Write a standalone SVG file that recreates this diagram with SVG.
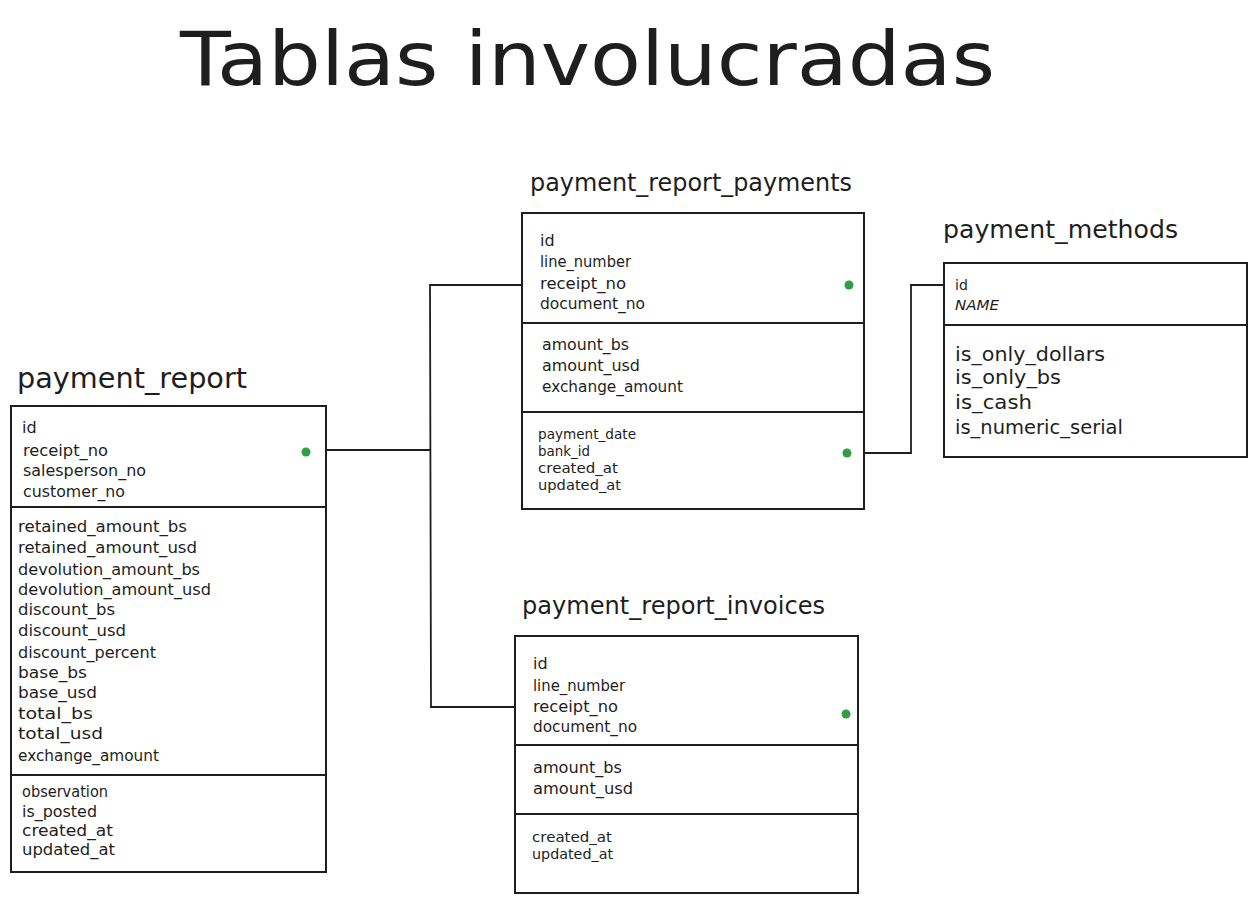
<svg xmlns="http://www.w3.org/2000/svg" width="1257" height="902" viewBox="0 0 1257 902">
<style>
text{font-family:"DejaVu Sans","Liberation Sans",sans-serif;fill:#1e1e1e}
.title{font-size:74px}
.tname{font-size:24px}
.f{font-size:16px}
.fs{font-size:15px}
.fxs{font-size:13.5px}
.fm{font-size:19px}
.fk{font-size:14px}
.box{fill:#fff;stroke:#1e1e1e;stroke-width:2}
.div{stroke:#1e1e1e;stroke-width:2}
.con{fill:none;stroke:#1e1e1e;stroke-width:1.8}
.dot{fill:#2f9e44}
</style>
<rect width="1257" height="902" fill="#fff"/>
<text class="title" x="180" y="85" textLength="815" lengthAdjust="spacingAndGlyphs">Tablas involucradas</text>

<g id="connectors">
<polyline class="con" points="326,450 431,450"/>
<polyline class="con" points="522,285 430,285 431,707 515,707"/>
<polyline class="con" points="864,453 911,453 911,285 944,285"/>
</g>

<g id="payment_report">
<text class="tname" x="17" y="388" style="font-size:28px" textLength="230" lengthAdjust="spacingAndGlyphs">payment_report</text>
<rect class="box" x="11" y="406" width="315" height="466"/>
<line class="div" x1="11" y1="507" x2="326" y2="507"/>
<line class="div" x1="11" y1="775" x2="326" y2="775"/>
<text class="f" x="22" y="433">id</text>
<text class="f" x="23" y="456" textLength="85" lengthAdjust="spacingAndGlyphs">receipt_no</text>
<text class="f" x="23" y="476" textLength="123" lengthAdjust="spacingAndGlyphs">salesperson_no</text>
<text class="f" x="23" y="497" textLength="102" lengthAdjust="spacingAndGlyphs">customer_no</text>
<text class="f" x="18" y="532" textLength="169" lengthAdjust="spacingAndGlyphs">retained_amount_bs</text>
<text class="f" x="18" y="553" textLength="179" lengthAdjust="spacingAndGlyphs">retained_amount_usd</text>
<text class="f" x="18" y="575" textLength="182" lengthAdjust="spacingAndGlyphs">devolution_amount_bs</text>
<text class="f" x="18" y="595" textLength="193" lengthAdjust="spacingAndGlyphs">devolution_amount_usd</text>
<text class="f" x="18" y="615" textLength="97" lengthAdjust="spacingAndGlyphs">discount_bs</text>
<text class="f" x="18" y="636" textLength="108" lengthAdjust="spacingAndGlyphs">discount_usd</text>
<text class="f" x="18" y="658" textLength="138" lengthAdjust="spacingAndGlyphs">discount_percent</text>
<text class="f" x="18" y="678" textLength="69" lengthAdjust="spacingAndGlyphs">base_bs</text>
<text class="f" x="18" y="698" textLength="79" lengthAdjust="spacingAndGlyphs">base_usd</text>
<text class="f" x="18" y="719" textLength="75" lengthAdjust="spacingAndGlyphs">total_bs</text>
<text class="f" x="18" y="739" textLength="85" lengthAdjust="spacingAndGlyphs">total_usd</text>
<text class="f" x="18" y="761" textLength="141" lengthAdjust="spacingAndGlyphs">exchange_amount</text>
<text class="fs" x="22" y="797" textLength="86" lengthAdjust="spacingAndGlyphs">observation</text>
<text class="fs" x="22" y="817" textLength="75" lengthAdjust="spacingAndGlyphs">is_posted</text>
<text class="fs" x="22" y="836" textLength="91" lengthAdjust="spacingAndGlyphs">created_at</text>
<text class="fs" x="22" y="855" textLength="93" lengthAdjust="spacingAndGlyphs">updated_at</text>
<circle class="dot" cx="306" cy="452" r="4.5"/>
</g>

<g id="payment_report_payments">
<text class="tname" x="530" y="191" textLength="322" lengthAdjust="spacingAndGlyphs">payment_report_payments</text>
<rect class="box" x="522" y="213" width="342" height="296"/>
<line class="div" x1="522" y1="323" x2="864" y2="323"/>
<line class="div" x1="522" y1="412" x2="864" y2="412"/>
<text class="f" x="540" y="246">id</text>
<text class="f" x="540" y="267" textLength="91" lengthAdjust="spacingAndGlyphs">line_number</text>
<text class="f" x="540" y="289" textLength="86" lengthAdjust="spacingAndGlyphs">receipt_no</text>
<text class="f" x="540" y="309" textLength="105" lengthAdjust="spacingAndGlyphs">document_no</text>
<text class="f" x="542" y="350" textLength="87" lengthAdjust="spacingAndGlyphs">amount_bs</text>
<text class="f" x="542" y="371" textLength="98" lengthAdjust="spacingAndGlyphs">amount_usd</text>
<text class="f" x="542" y="392" textLength="141" lengthAdjust="spacingAndGlyphs">exchange_amount</text>
<text class="fxs" x="538" y="439" textLength="98" lengthAdjust="spacingAndGlyphs">payment_date</text>
<text class="fxs" x="538" y="456" textLength="52" lengthAdjust="spacingAndGlyphs">bank_id</text>
<text class="fxs" x="538" y="473" textLength="80" lengthAdjust="spacingAndGlyphs">created_at</text>
<text class="fxs" x="538" y="490" textLength="83" lengthAdjust="spacingAndGlyphs">updated_at</text>
<circle class="dot" cx="849" cy="285" r="4.5"/>
<circle class="dot" cx="847" cy="453" r="4.5"/>
</g>

<g id="payment_methods">
<text class="tname" x="943" y="238" style="font-size:25px" textLength="235" lengthAdjust="spacingAndGlyphs">payment_methods</text>
<rect class="box" x="944" y="263" width="303" height="194"/>
<line class="div" x1="944" y1="325" x2="1247" y2="325"/>
<text class="fk" x="955" y="290">id</text>
<text class="fk" x="955" y="310" font-style="italic" textLength="44" lengthAdjust="spacingAndGlyphs">NAME</text>
<text class="fm" x="955" y="361" textLength="150" lengthAdjust="spacingAndGlyphs">is_only_dollars</text>
<text class="fm" x="955" y="384" textLength="106" lengthAdjust="spacingAndGlyphs">is_only_bs</text>
<text class="fm" x="955" y="409" textLength="77" lengthAdjust="spacingAndGlyphs">is_cash</text>
<text class="fm" x="955" y="434" textLength="168" lengthAdjust="spacingAndGlyphs">is_numeric_serial</text>
</g>

<g id="payment_report_invoices">
<text class="tname" x="522" y="614" textLength="303" lengthAdjust="spacingAndGlyphs">payment_report_invoices</text>
<rect class="box" x="515" y="636" width="343" height="257"/>
<line class="div" x1="515" y1="745" x2="858" y2="745"/>
<line class="div" x1="515" y1="814" x2="858" y2="814"/>
<text class="f" x="533" y="669">id</text>
<text class="f" x="533" y="691" textLength="92" lengthAdjust="spacingAndGlyphs">line_number</text>
<text class="f" x="533" y="712" textLength="85" lengthAdjust="spacingAndGlyphs">receipt_no</text>
<text class="f" x="533" y="732" textLength="104" lengthAdjust="spacingAndGlyphs">document_no</text>
<text class="f" x="533" y="773" textLength="89" lengthAdjust="spacingAndGlyphs">amount_bs</text>
<text class="f" x="533" y="794" textLength="100" lengthAdjust="spacingAndGlyphs">amount_usd</text>
<text class="fxs" x="532" y="842" textLength="80" lengthAdjust="spacingAndGlyphs">created_at</text>
<text class="fxs" x="532" y="859" textLength="81" lengthAdjust="spacingAndGlyphs">updated_at</text>
<circle class="dot" cx="846" cy="714" r="4.5"/>
</g>
</svg>
